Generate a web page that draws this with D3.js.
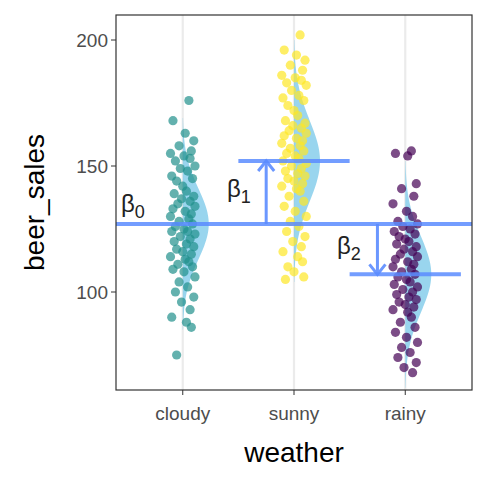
<!DOCTYPE html>
<html><head><meta charset="utf-8">
<script src="https://cdn.jsdelivr.net/npm/d3@7"></script>
<style>body{margin:0;background:#fff}</style>
</head><body><div id="chart"></div>
<script>
var weather = ["cloudy", "sunny", "rainy"];
var means = [127, 152, 107];
var sds = [14, 16, 15];
var cloudySales = [176,168,163,160,158,156,155,154,153,152,150,149,148,146,145,144,142,140,139,138,137,136,135,134,133,132,131,130,129,128,127,126,125,124,124,123,122,121,120,119,118,117,116,115,114,113,112,111,110,109,108,106,104,102,100,98,96,93,90,88,86,75];
var sunnySales = [202,196,194,192,190,188,186,185,184,183,182,180,178,177,176,174,172,170,168,167,166,165,164,163,162,161,160,159,158,157,156,155,154,153,152,151,150,149,148,147,146,145,144,143,142,141,140,138,136,134,132,130,128,126,124,122,120,118,116,114,112,110,108,106,105];
var rainySales = [156,155,154,143,141,138,135,132,130,128,127,126,125,124,123,122,121,120,119,118,117,116,115,114,113,112,111,110,109,108,107,106,105,104,103,102,101,100,99,98,97,96,95,94,93,92,90,88,86,84,82,80,78,76,74,72,70,68];
var jitter = [0.05,-0.08,0.02,0.09,-0.03,0.07,-0.1,0.01,0.06,-0.06,0.1,-0.02,0.04,-0.09,0.08,-0.05,0.0,0.03,-0.07,0.09,-0.01,0.06,-0.04,0.1,-0.08,0.02,0.07,-0.1,0.05,-0.03,0.08,-0.06,0.01,0.04,-0.09,0.1,-0.02,0.06,-0.07,0.03,0.09,-0.05,0.0,0.07,-0.1,0.02,0.05,-0.04,0.08,-0.08,0.01,0.1,-0.03,0.04,-0.06,0.09,-0.01,0.06,-0.09,0.03,0.07,-0.05,0.0,0.08,-0.07];
var colors = ["#21908C", "#FDE725", "#440154"];
var yTicks = [100, 150, 200];

var W = 486, H = 486, L = 116, R = 472, T = 15, B = 390;
var svg = d3.select("#chart").append("svg").attr("width", W).attr("height", H)
  .style("font-family", "Liberation Sans, Arial, sans-serif");

var x = d3.scaleLinear().domain([0.4, 3.6]).range([L, R]);
var y = d3.scaleLinear().domain([100, 150]).range([292, 166]);

// grid
svg.append("g").selectAll("line").data(weather).join("line")
  .attr("x1", (d, i) => x(i + 1)).attr("x2", (d, i) => x(i + 1))
  .attr("y1", T).attr("y2", B).attr("stroke", "#ebebeb").attr("stroke-width", 2.2);

// densities
var groups = [cloudySales, sunnySales, rainySales];
groups.forEach(function(g, i) {
  var pts = d3.range(means[i] - 3 * sds[i], means[i] + 3 * sds[i] + 0.1, 0.5);
  var area = d3.area()
    .y(v => y(v))
    .x0(x(i + 1))
    .x1(v => x(i + 1) + 26 * Math.exp(-0.5 * Math.pow((v - means[i]) / sds[i], 2)));
  svg.append("path").datum(pts).attr("d", area).attr("fill", "#87CEEB").attr("opacity", 0.85);
});

// points
groups.forEach(function(g, i) {
  svg.append("g").selectAll("circle").data(g).join("circle")
    .attr("cx", (d, j) => x(i + 1 + jitter[j % jitter.length] * 1.1))
    .attr("cy", d => y(d)).attr("r", 4.6)
    .attr("fill", colors[i]).attr("opacity", 0.7);
});

// regression lines
var blue = "#5B8CFF";
svg.append("line").attr("x1", L).attr("x2", R).attr("y1", y(means[0])).attr("y2", y(means[0]))
  .attr("stroke", blue).attr("stroke-width", 4).attr("opacity", 0.85);
[1, 2].forEach(function(i) {
  svg.append("line").attr("x1", x(i + 1 - 0.5)).attr("x2", x(i + 1 + 0.5))
    .attr("y1", y(means[i])).attr("y2", y(means[i]))
    .attr("stroke", blue).attr("stroke-width", 4).attr("opacity", 0.85);
});
// arrows
function arrow(xx, y0, y1) {
  var dir = y1 < y0 ? 1 : -1;
  var g = svg.append("g").attr("stroke", blue).attr("stroke-width", 3).attr("fill", "none").attr("opacity", 0.9);
  g.append("line").attr("x1", xx).attr("x2", xx).attr("y1", y0).attr("y2", y1);
  g.append("path").attr("d", "M" + (xx - 8) + "," + (y1 + dir * 10) + "L" + xx + "," + y1 + "L" + (xx + 8) + "," + (y1 + dir * 10));
}
arrow(x(1.75), y(means[0]), y(means[1]));
arrow(x(2.75), y(means[0]), y(means[2]));

// beta labels
function beta(xx, yy, sub) {
  var t = svg.append("text").attr("x", xx).attr("y", yy).attr("font-size", 24).attr("fill", "#222");
  t.append("tspan").text("β");
  t.append("tspan").attr("dy", 6).attr("font-size", 18).text(sub);
}
beta(121, 212, "0");
beta(227, 197, "1");
beta(337, 254, "2");

// panel border
svg.append("rect").attr("x", L).attr("y", T).attr("width", R - L).attr("height", B - T)
  .attr("fill", "none").attr("stroke", "#333").attr("stroke-width", 1.2);

// axes
svg.append("g").selectAll("line").data(yTicks).join("line")
  .attr("x1", L - 5).attr("x2", L).attr("y1", d => y(d)).attr("y2", d => y(d)).attr("stroke", "#333");
svg.append("g").selectAll("text").data(yTicks).join("text")
  .attr("x", L - 8).attr("y", d => y(d)).attr("dy", "0.35em").attr("text-anchor", "end")
  .attr("font-size", 19).attr("fill", "#4d4d4d").text(d => d);
svg.append("g").selectAll("line").data(weather).join("line")
  .attr("x1", (d, i) => x(i + 1)).attr("x2", (d, i) => x(i + 1)).attr("y1", B).attr("y2", B + 5).attr("stroke", "#333");
svg.append("g").selectAll("text").data(weather).join("text")
  .attr("x", (d, i) => x(i + 1)).attr("y", B + 30).attr("text-anchor", "middle")
  .attr("font-size", 19).attr("fill", "#4d4d4d").text(d => d);

svg.append("text").attr("x", (L + R) / 2).attr("y", 462).attr("text-anchor", "middle")
  .attr("font-size", 28).text("weather");
svg.append("text").attr("transform", "translate(44," + ((T + B) / 2) + ") rotate(-90)")
  .attr("text-anchor", "middle").attr("font-size", 28).text("beer_sales");
</script></body></html>
